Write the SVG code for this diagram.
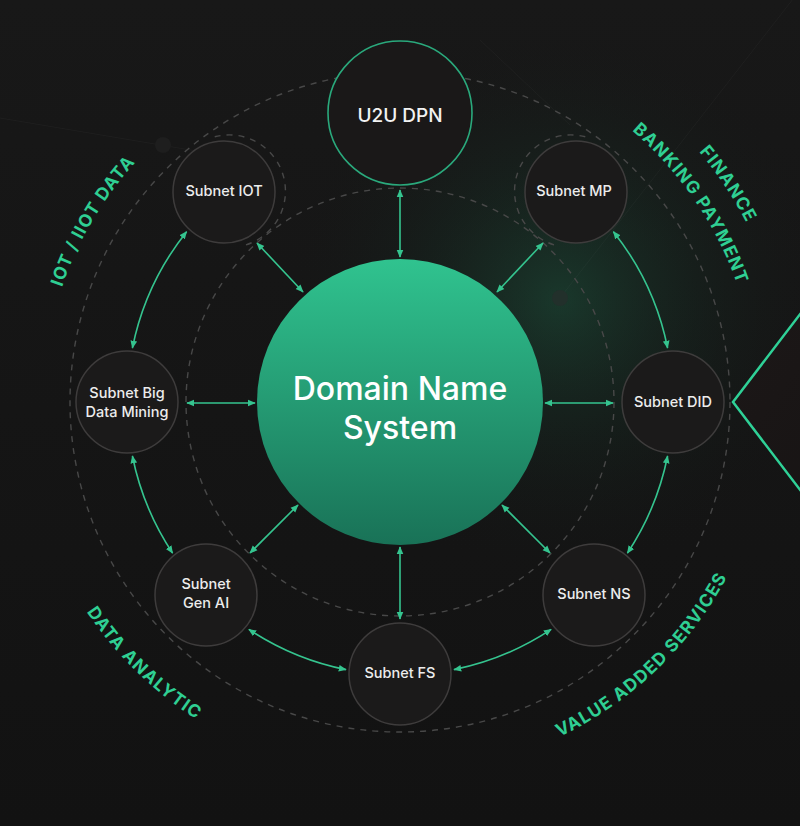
<svg xmlns="http://www.w3.org/2000/svg" width="800" height="826" viewBox="0 0 800 826">
  <defs>
    <linearGradient id="bg" x1="0" y1="0" x2="0" y2="1">
      <stop offset="0" stop-color="#181818"/>
      <stop offset="1" stop-color="#121212"/>
    </linearGradient>
    <radialGradient id="glow" cx="560" cy="300" r="280" gradientUnits="userSpaceOnUse">
      <stop offset="0" stop-color="#1f6b4c" stop-opacity="0.4"/>
      <stop offset="0.5" stop-color="#173a2c" stop-opacity="0.22"/>
      <stop offset="1" stop-color="#141414" stop-opacity="0"/>
    </radialGradient>
    <linearGradient id="dnsFill" x1="0" y1="0" x2="0" y2="1">
      <stop offset="0" stop-color="#30c38f"/>
      <stop offset="1" stop-color="#197257"/>
    </linearGradient>
    <linearGradient id="diamondFill" x1="0" y1="0" x2="1" y2="1">
      <stop offset="0" stop-color="#1d1818"/>
      <stop offset="1" stop-color="#141212"/>
    </linearGradient>
    <marker id="ah" viewBox="0 0 10 10" refX="9" refY="5" markerWidth="8" markerHeight="8" markerUnits="userSpaceOnUse" orient="auto-start-reverse">
      <path d="M0,0.8 L10,5 L0,9.2 z" fill="#35c48f"/>
    </marker>
    <path id="arcIot" d="M63.5,521.2 A357,357 0 0 1 341.1,49.9"/>
    <path id="arcBank" d="M435.5,46.7 A357,357 0 0 1 743.7,498.6"/>
    <path id="arcFin" d="M443.5,14.4 A390,390 0 0 1 774.1,512.1"/>
    <path id="arcData" d="M24.1,373.1 A377,377 0 0 0 436.8,777.2"/>
    <path id="arcVal" d="M359.3,770.8 A371,371 0 0 0 770.2,378.1"/>
    <style>
      .node { fill: #1b1a1a; stroke: #3e3c3c; stroke-width: 1.5; }
      .ntext { font-family: Inter, "Open Sans", "Liberation Sans", sans-serif; font-size: 14.5px; font-weight: 500; fill: #ececec; text-anchor: middle; }
      .dash { fill: none; stroke: #484848; stroke-width: 1.4; stroke-dasharray: 6 6; }
      .conn { fill: none; stroke: #35c48f; stroke-width: 1.6; marker-start: url(#ah); marker-end: url(#ah); }
      .lbl { font-family: Inter, "Open Sans", "Liberation Sans", sans-serif; font-size: 17.5px; font-weight: 700; fill: #2fcf93; letter-spacing: 1.1px; }
      .streak { stroke: #ffffff; stroke-opacity: 0.03; stroke-width: 1; fill: none; }
    </style>
  </defs>

  <!-- background -->
  <rect x="0" y="0" width="800" height="826" fill="url(#bg)"/>
  <rect x="0" y="0" width="800" height="826" fill="url(#glow)"/>
  <line class="streak" x1="800" y1="-10" x2="560" y2="298"/>
  <line class="streak" x1="480" y1="40" x2="570" y2="125"/>
  <line class="streak" x1="0" y1="118" x2="250" y2="160"/>
  <circle cx="163" cy="145" r="8" fill="#1e1e1e"/>
  <circle cx="560" cy="298" r="8" fill="#22302b"/>

  <!-- right diamond -->
  <polygon points="733,402 843,258 953,402 843,546" fill="url(#diamondFill)" stroke="#2fd197" stroke-width="2.5"/>

  <!-- dashed rings -->
  <g id="rings">
    <circle class="dash" cx="400" cy="402" r="214"/>
    <circle class="dash" cx="400" cy="402" r="330"/>
    <path class="dash" d="M214.7,136.8 A56,56 0 1 1 243.7,245.5"/>
    <path class="dash" d="M585.3,136.8 A56,56 0 1 0 556.3,245.5"/>
  </g>

  <!-- connectors -->
  <g id="connectors">
    <line class="conn" x1="400" y1="190" x2="400" y2="257"/>
    <line class="conn" x1="400" y1="547" x2="400" y2="619"/>
    <line class="conn" x1="187" y1="403" x2="255" y2="403"/>
    <line class="conn" x1="545" y1="403" x2="613" y2="403"/>
    <line class="conn" x1="257" y1="243" x2="303" y2="292"/>
    <line class="conn" x1="543" y1="243" x2="497" y2="292"/>
    <line class="conn" x1="250" y1="553" x2="298" y2="505"/>
    <line class="conn" x1="550" y1="553" x2="502" y2="505"/>
    <path class="conn" d="M186.6,231.7 A273,273 0 0 0 132.4,348.0"/>
    <path class="conn" d="M132.4,456.0 A273,273 0 0 0 172.6,553.1"/>
    <path class="conn" d="M248.9,629.4 A273,273 0 0 0 346.0,669.6"/>
    <path class="conn" d="M454.0,669.6 A273,273 0 0 0 551.1,629.4"/>
    <path class="conn" d="M627.4,553.1 A273,273 0 0 0 667.6,456.0"/>
    <path class="conn" d="M667.6,348.0 A273,273 0 0 0 613.4,231.7"/>
  </g>

  <!-- nodes -->
  <g id="node-dns">
    <circle cx="400" cy="402" r="143" fill="url(#dnsFill)"/>
    <text x="400" y="400" text-anchor="middle" font-family="Inter, 'Open Sans', 'Liberation Sans', sans-serif" font-size="32" font-weight="500" fill="#ffffff">Domain Name</text>
    <text x="400" y="439" text-anchor="middle" font-family="Inter, 'Open Sans', 'Liberation Sans', sans-serif" font-size="32" font-weight="500" fill="#ffffff">System</text>
  </g>
  <g id="node-u2u">
    <circle cx="400" cy="113" r="72" fill="#1a1818" stroke="#2aa97c" stroke-width="1.6"/>
    <text x="400" y="122" text-anchor="middle" font-family="Inter, 'Open Sans', 'Liberation Sans', sans-serif" font-size="19" font-weight="500" fill="#f2f2f2">U2U DPN</text>
  </g>
  <g id="node-iot">
    <circle class="node" cx="224" cy="192" r="51"/>
    <text class="ntext" x="224" y="196">Subnet IOT</text>
  </g>
  <g id="node-mp">
    <circle class="node" cx="576" cy="192" r="51"/>
    <text class="ntext" x="574" y="196">Subnet MP</text>
  </g>
  <g id="node-bigdata">
    <circle class="node" cx="127" cy="402" r="51"/>
    <text class="ntext" x="127" y="398">Subnet Big</text>
    <text class="ntext" x="127" y="417">Data Mining</text>
  </g>
  <g id="node-did">
    <circle class="node" cx="673" cy="402" r="51"/>
    <text class="ntext" x="673" y="407">Subnet DID</text>
  </g>
  <g id="node-genai">
    <circle class="node" cx="206" cy="595" r="51"/>
    <text class="ntext" x="206" y="589">Subnet</text>
    <text class="ntext" x="206" y="608">Gen AI</text>
  </g>
  <g id="node-ns">
    <circle class="node" cx="594" cy="595" r="51"/>
    <text class="ntext" x="594" y="599">Subnet NS</text>
  </g>
  <g id="node-fs">
    <circle class="node" cx="400" cy="674" r="51"/>
    <text class="ntext" x="400" y="678">Subnet FS</text>
  </g>

  <!-- sector labels -->
  <g id="labels">
    <text class="lbl"><textPath href="#arcIot" startOffset="50%" text-anchor="middle">IOT / IIOT DATA</textPath></text>
    <text class="lbl"><textPath href="#arcFin" startOffset="50%" text-anchor="middle">FINANCE</textPath></text>
    <text class="lbl"><textPath href="#arcBank" startOffset="50%" text-anchor="middle">BANKING PAYMENT</textPath></text>
    <text class="lbl"><textPath href="#arcData" startOffset="50%" text-anchor="middle">DATA ANALYTIC</textPath></text>
    <text class="lbl"><textPath href="#arcVal" startOffset="50%" text-anchor="middle">VALUE ADDED SERVICES</textPath></text>
  </g>
</svg>
